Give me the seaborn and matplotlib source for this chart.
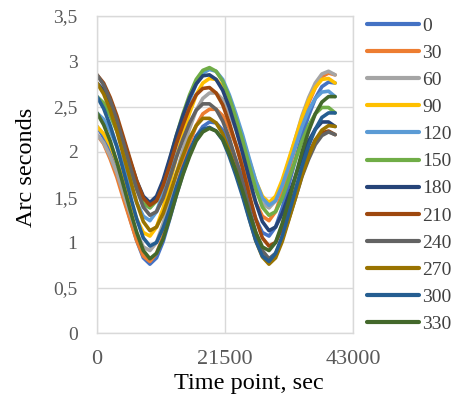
import numpy as np
import pandas as pd
import matplotlib
matplotlib.use("Agg")
import matplotlib.pyplot as plt
import seaborn as sns
from matplotlib.ticker import FuncFormatter, MultipleLocator

# sample times, sec
time_sec = [0, 1111, 2222, 3333, 4444, 5556, 6667, 7778, 8889, 10000,
            11111, 12222, 13333, 14444, 15556, 16667, 17778, 18889, 20000,
            21111, 22222, 23333, 24444, 25556, 26667, 27778, 28889, 30000,
            31111, 32222, 33333, 34444, 35556, 36667, 37778, 38889, 40000]

angles = ["0", "30", "60", "90", "120", "150", "180", "210", "240", "270", "300", "330"]

s0 = [2.28, 2.16, 1.98, 1.77, 1.51, 1.26, 1.02, 0.83, 0.76, 0.83, 1.01, 1.26, 1.52,
      1.76, 1.98, 2.17, 2.28, 2.33, 2.32, 2.24, 2.10, 1.91, 1.71, 1.47, 1.26, 1.11,
      1.07, 1.17, 1.38, 1.64, 1.91, 2.18, 2.40, 2.59, 2.72, 2.77, 2.76]
s30 = [2.19, 2.09, 1.92, 1.72, 1.48, 1.25, 1.02, 0.85, 0.79, 0.88, 1.07, 1.33, 1.61,
       1.86, 2.10, 2.29, 2.42, 2.47, 2.47, 2.40, 2.26, 2.08, 1.88, 1.65, 1.44, 1.29,
       1.24, 1.34, 1.55, 1.80, 2.06, 2.32, 2.54, 2.71, 2.83, 2.87, 2.85]
s60 = [2.19, 2.10, 1.95, 1.77, 1.54, 1.32, 1.11, 0.95, 0.91, 1.00, 1.21, 1.47, 1.76,
       2.02, 2.26, 2.46, 2.59, 2.65, 2.65, 2.58, 2.43, 2.25, 2.05, 1.81, 1.59, 1.43,
       1.38, 1.46, 1.66, 1.90, 2.15, 2.40, 2.60, 2.76, 2.86, 2.89, 2.85]
s90 = [2.28, 2.20, 2.07, 1.89, 1.68, 1.46, 1.26, 1.11, 1.07, 1.17, 1.38, 1.65, 1.94,
       2.20, 2.43, 2.63, 2.76, 2.81, 2.80, 2.72, 2.57, 2.37, 2.16, 1.91, 1.68, 1.51,
       1.44, 1.51, 1.69, 1.92, 2.15, 2.38, 2.57, 2.71, 2.80, 2.81, 2.76]
s120 = [2.43, 2.36, 2.23, 2.06, 1.85, 1.64, 1.44, 1.29, 1.24, 1.34, 1.55, 1.81, 2.09,
        2.34, 2.57, 2.75, 2.87, 2.91, 2.89, 2.80, 2.63, 2.42, 2.19, 1.93, 1.68, 1.49,
        1.41, 1.46, 1.63, 1.84, 2.06, 2.28, 2.46, 2.59, 2.66, 2.67, 2.61]
s150 = [2.61, 2.54, 2.40, 2.23, 2.02, 1.80, 1.59, 1.43, 1.38, 1.46, 1.66, 1.91, 2.18,
        2.42, 2.63, 2.80, 2.90, 2.93, 2.89, 2.78, 2.60, 2.37, 2.13, 1.85, 1.59, 1.39,
        1.30, 1.34, 1.49, 1.70, 1.91, 2.12, 2.29, 2.42, 2.49, 2.49, 2.43]
s180 = [2.76, 2.68, 2.54, 2.35, 2.13, 1.90, 1.68, 1.51, 1.44, 1.51, 1.69, 1.93, 2.18,
        2.40, 2.60, 2.75, 2.84, 2.85, 2.80, 2.68, 2.49, 2.25, 1.99, 1.71, 1.44, 1.23,
        1.13, 1.17, 1.32, 1.52, 1.73, 1.94, 2.12, 2.25, 2.33, 2.33, 2.28]
s210 = [2.85, 2.76, 2.60, 2.40, 2.16, 1.92, 1.68, 1.49, 1.41, 1.46, 1.63, 1.85, 2.09,
        2.30, 2.49, 2.63, 2.70, 2.71, 2.65, 2.52, 2.32, 2.08, 1.82, 1.53, 1.26, 1.05,
        0.96, 1.00, 1.16, 1.36, 1.58, 1.80, 1.98, 2.13, 2.21, 2.23, 2.19]
s240 = [2.85, 2.74, 2.57, 2.35, 2.10, 1.84, 1.59, 1.39, 1.30, 1.34, 1.49, 1.71, 1.94,
        2.14, 2.32, 2.46, 2.53, 2.53, 2.47, 2.34, 2.15, 1.91, 1.66, 1.37, 1.11, 0.91,
        0.82, 0.88, 1.04, 1.26, 1.49, 1.73, 1.92, 2.08, 2.18, 2.22, 2.19]
s270 = [2.76, 2.64, 2.46, 2.23, 1.96, 1.70, 1.44, 1.23, 1.13, 1.17, 1.32, 1.53, 1.76,
        1.96, 2.15, 2.29, 2.37, 2.37, 2.32, 2.20, 2.01, 1.79, 1.54, 1.27, 1.02, 0.84,
        0.76, 0.83, 1.01, 1.25, 1.49, 1.74, 1.95, 2.13, 2.24, 2.29, 2.28]
s300 = [2.61, 2.48, 2.29, 2.06, 1.79, 1.52, 1.26, 1.05, 0.96, 1.00, 1.16, 1.37, 1.61,
        1.82, 2.01, 2.17, 2.25, 2.27, 2.23, 2.13, 1.95, 1.74, 1.51, 1.26, 1.02, 0.85,
        0.79, 0.88, 1.07, 1.32, 1.58, 1.84, 2.07, 2.25, 2.38, 2.43, 2.43]
s330 = [2.43, 2.30, 2.12, 1.89, 1.63, 1.36, 1.11, 0.91, 0.82, 0.88, 1.04, 1.27, 1.52,
        1.75, 1.95, 2.12, 2.22, 2.26, 2.23, 2.14, 1.98, 1.79, 1.57, 1.33, 1.11, 0.95,
        0.91, 1.00, 1.21, 1.46, 1.73, 2.00, 2.23, 2.42, 2.55, 2.61, 2.61]

series = [s0, s30, s60, s90, s120, s150, s180, s210, s240, s270, s300, s330]

colors = ["#4472C4", "#ED7D31", "#A5A5A5", "#FFC000", "#5B9BD5", "#70AD47",
          "#264478", "#9E480E", "#636363", "#997300", "#255E91", "#43682B"]

rows = []
for a, vals in zip(angles, series):
    for t, v in zip(time_sec, vals):
        rows.append({"time": t, "value": v, "angle": a})
df = pd.DataFrame(rows)

sns.set_style("white")
plt.rcParams["font.family"] = ["Liberation Serif", "DejaVu Serif"]

fig = plt.figure(figsize=(4.63, 3.98), dpi=100)
ax = fig.add_axes([97 / 463, 1 - 333 / 398, 256 / 463, 317 / 398])

sns.lineplot(data=df, x="time", y="value", hue="angle", hue_order=angles,
             palette=colors, estimator=None, linewidth=2.6, ax=ax)

ax.set_xlim(0, 43000)
ax.set_ylim(0, 3.5)
ax.set_xticks([0, 21500, 43000])
ax.yaxis.set_major_locator(MultipleLocator(0.5))
ax.yaxis.set_major_formatter(FuncFormatter(lambda v, _: f"{v:g}".replace(".", ",")))
ax.grid(True, color="#D9D9D9", linewidth=1)
ax.set_axisbelow(True)
for sp in ax.spines.values():
    sp.set_color("#D9D9D9")
    sp.set_linewidth(1)
ax.tick_params(axis="both", length=0, colors="#595959")
ax.tick_params(axis="y", labelsize=14, pad=14)
ax.tick_params(axis="x", labelsize=16, pad=12)
ax.set_xlabel("")
ax.set_ylabel("")

fig.text(249 / 463, 1 - 383 / 398, "Time point, sec", fontsize=17.5,
         ha="center", va="center", color="black")
fig.text(27 / 463, 1 - 167 / 398, "Arc seconds", fontsize=17.5, rotation=90,
         ha="center", va="center", color="black")

handles, labels = ax.get_legend_handles_labels()
leg = ax.legend(handles, labels, loc="upper left", bbox_to_anchor=(367 / 463, 1 - 17 / 398),
                bbox_transform=fig.transFigure, frameon=False, fontsize=14,
                handlelength=2.65, handletextpad=0.2, labelspacing=0.49,
                borderpad=0, borderaxespad=0)
for line in leg.get_lines():
    line.set_linewidth(3)
for txt in leg.get_texts():
    txt.set_color("#404040")

fig.savefig("out.png", dpi=100, facecolor="white")
